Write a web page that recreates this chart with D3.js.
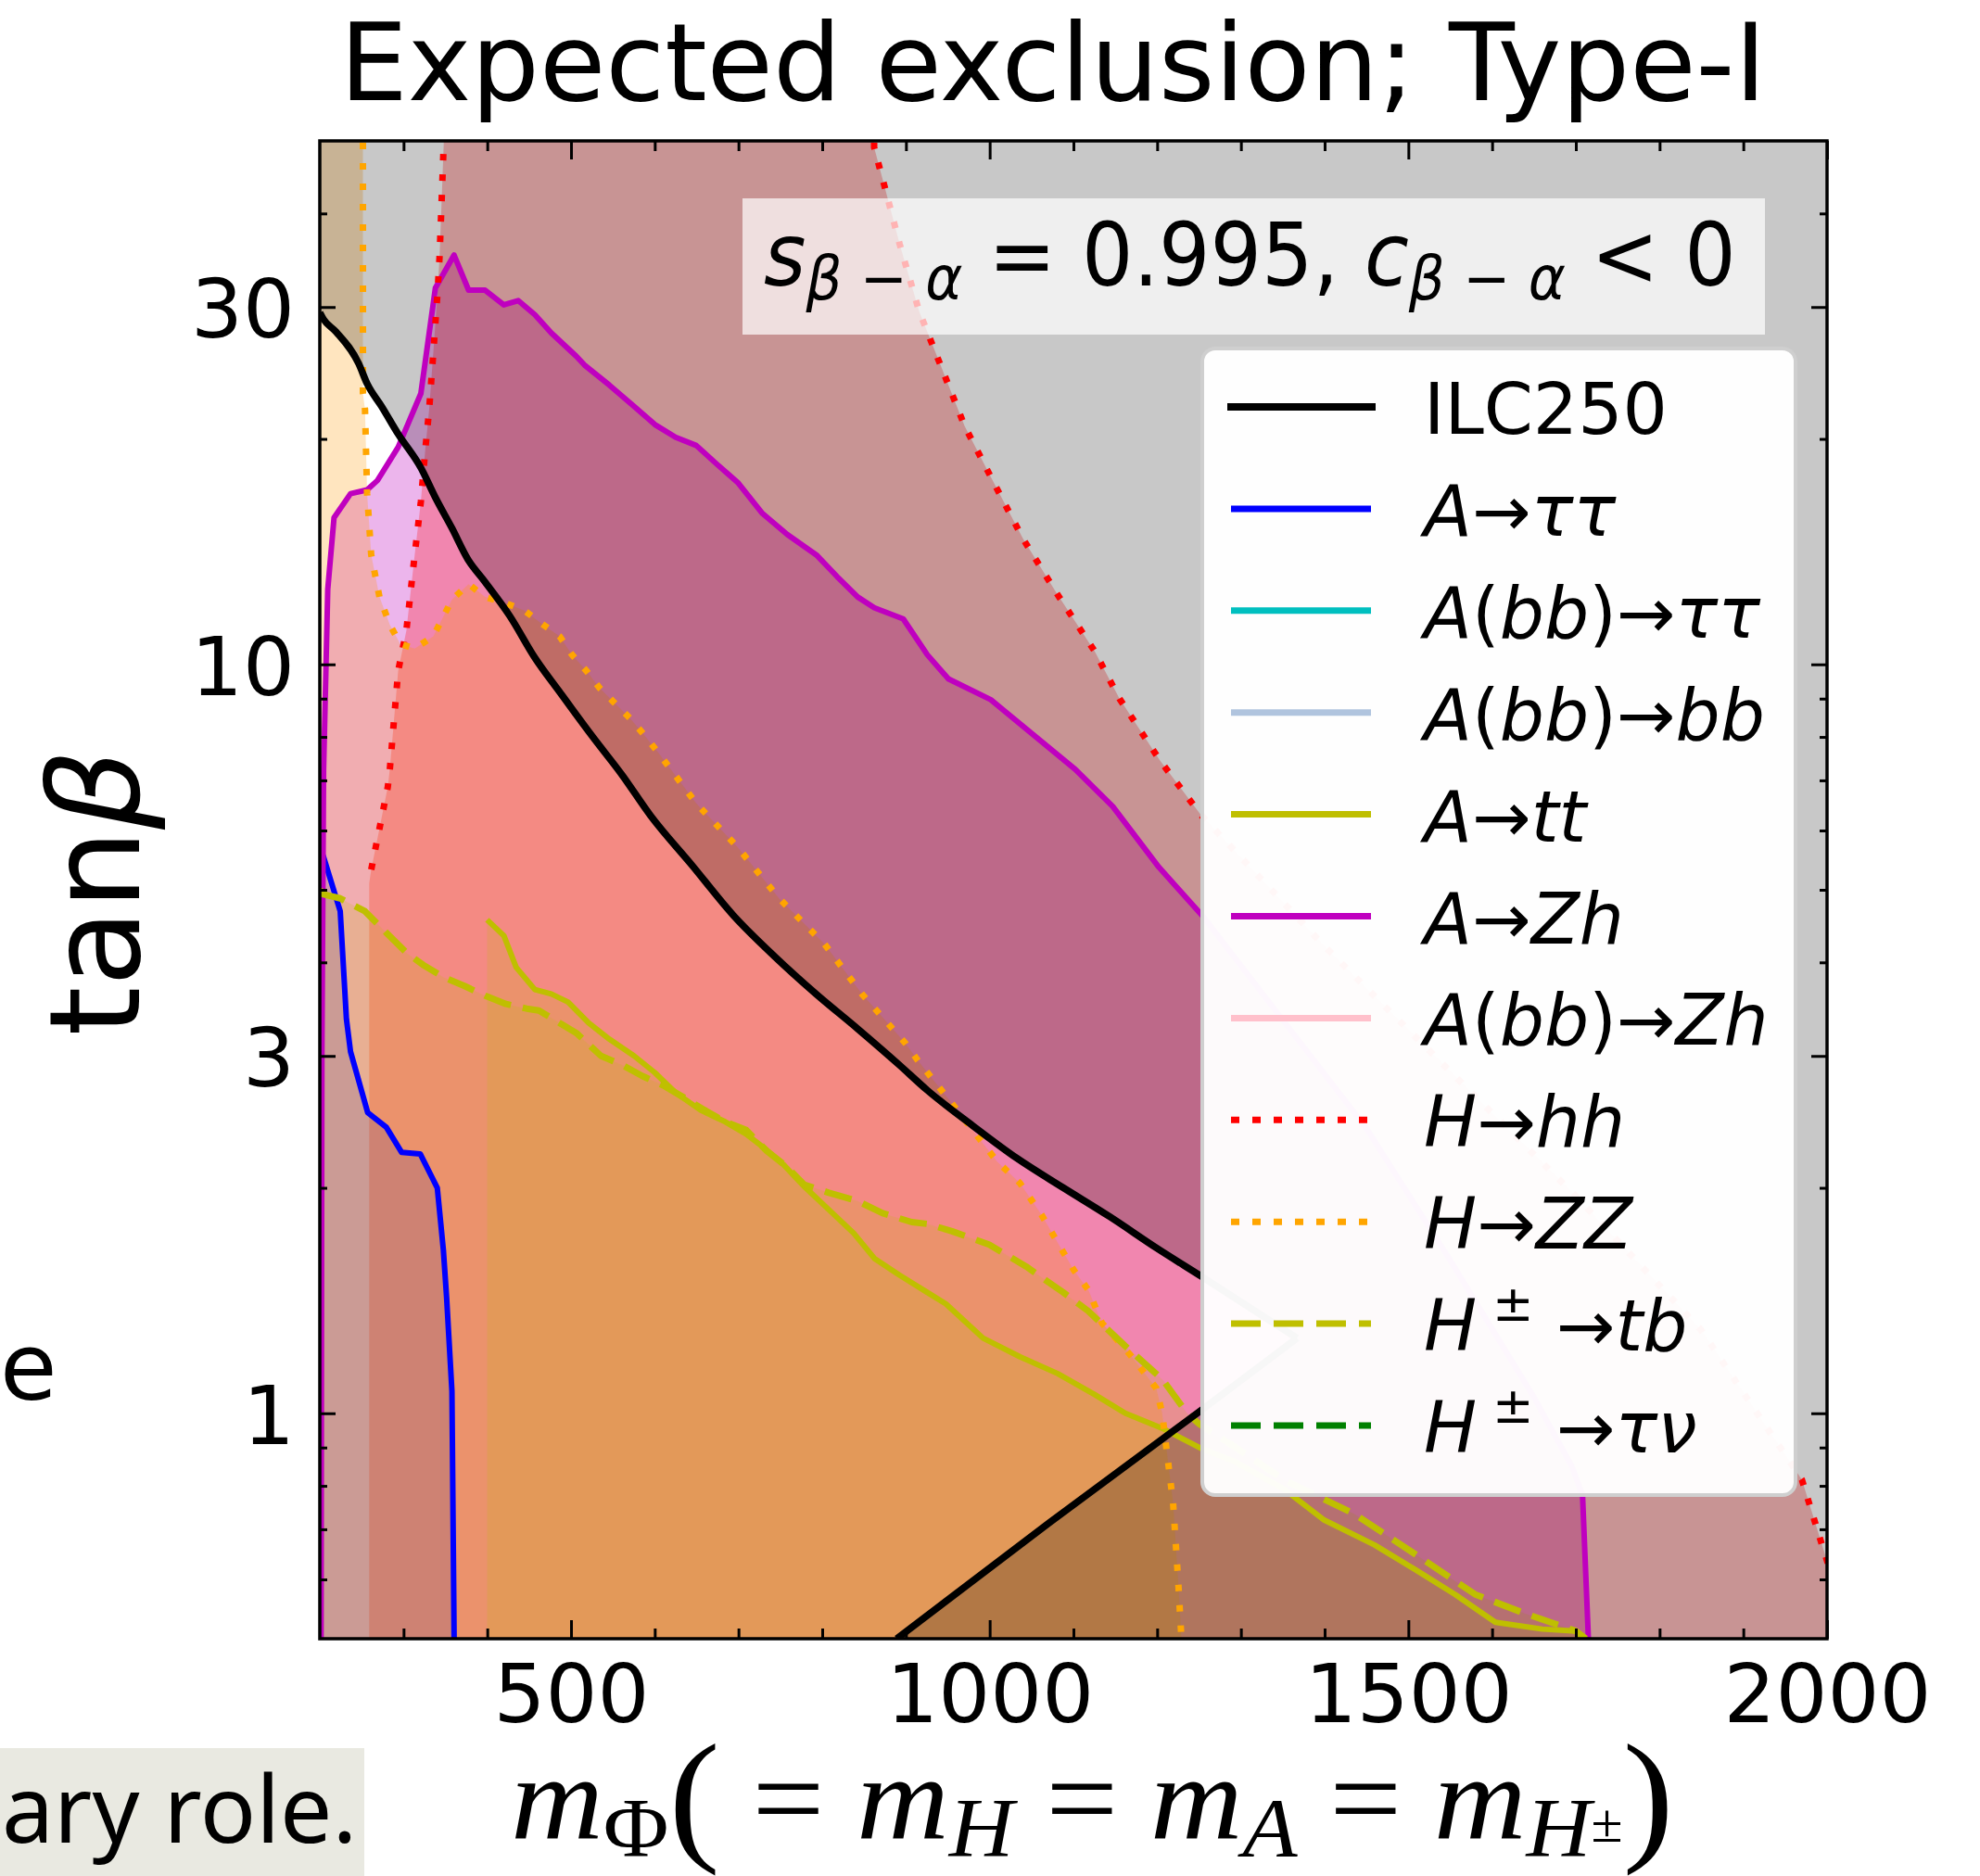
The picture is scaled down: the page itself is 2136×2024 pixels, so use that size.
<!DOCTYPE html>
<html>
<head>
<meta charset="utf-8">
<title>Expected exclusion; Type-I</title>
<script src="https://cdn.jsdelivr.net/npm/d3@7/dist/d3.min.js"></script>
<style>
body { margin: 0; background: #fff; }
svg { display: block; }
</style>
</head>
<body>
<script>
// curves, as [m_Phi (GeV), tan beta]
var ilcUpper = [[200,29.5],[204.4,28.9],[219.4,27.8],[246.5,25.2],[256.5,23.7],[273.8,22.1],[293.6,20.3],[320.7,18.3],[338,16.7],[357.8,15.2],[377,13.8],[397,12.9],[427,11.6],[457,10.2],[486,9.2],[526,8.0],[560.5,7.13],[595,6.28],[644.6,5.39],[694,4.62],[743.5,4.07],[792.6,3.63],[842.5,3.26],[891.8,2.92],[925.5,2.70],[980,2.42],[1032.6,2.19],[1088,2.00],[1143.4,1.83],[1200,1.66],[1254.2,1.52],[1367,1.26]];
var ilcLower = [[889,0.5],[1071,0.714],[1253,1.01],[1367,1.26]];

var azh = [[201.5,0.5],[202.5,3],[204.5,7.2],[209.5,12.6],[217,15.7],[236.7,16.9],[256.5,17.1],[268.8,17.6],[293.6,19.5],[320.7,23.0],[338,31.8],[360.3,35.2],[377.7,31.6],[397.4,31.6],[419.7,30.2],[436.9,30.6],[456.8,29.3],[476.5,27.7],[506.2,25.8],[516.1,25.1],[545.7,23.6],[575.4,22.1],[600.2,20.9],[624.9,20.1],[649.6,19.6],[674.3,18.5],[699,17.5],[728.7,15.9],[758.4,14.9],[793,14.0],[817.7,13.1],[842.4,12.3],[862.3,11.9],[896.8,11.5],[925.5,10.3],[950.8,9.56],[1001.3,8.97],[1102.3,7.24],[1147,6.46],[1202,5.36],[1254.5,4.61],[1350,3.35],[1450,2.4],[1550,1.6],[1650,1.05],[1695,0.85],[1708,0.777],[1715,0.5]];

var tautau = [[200,5.7],[204.5,5.53],[224.4,4.68],[231.8,3.36],[236.7,3.04],[257.2,2.52],[279.4,2.41],[297.8,2.23],[319.9,2.22],[340.3,2.00],[347.6,1.65],[351.4,1.43],[357.8,1.07],[360.4,0.5]];

var hhStart = [[259,5.1]];
var hhLeft = [[261.4,5.32],[271.3,6.04],[281.2,6.86],[283.6,7.24],[293.6,9.8],[303.4,11.1],[313.3,14.0],[320.7,16.5],[325.7,19.2],[330.6,21.9],[335.6,26.1],[340.5,31.2],[343,35],[345.4,41.3],[348,49.6],[348.5,60]];
var hhRight = [[862,60],[862,49],[874.6,43.4],[892.5,36.4],[915.8,29.6],[946.9,24.2],[970.1,20.8],[1001.3,17.8],[1040,14.7],[1078.9,12.5],[1125.6,10.4],[1155,9.0],[1203,7.45],[1252,6.3],[1400,4.2],[1550,2.86],[1700,1.95],[1850,1.29],[1970,0.815],[1994,0.667],[2003,0.62]];

var zzStart = [[200,60]];
var zz = [[251.5,60],[251.5,23.0],[254,21.9],[256.5,16.9],[261.4,14.0],[271.3,12.3],[283.6,11.3],[296,10.65],[313.3,10.5],[335.6,10.9],[357.8,12.2],[377.7,12.8],[397.4,12.3],[419.7,12.1],[444.4,11.8],[466.6,11.3],[486.4,10.9],[501.2,10.3],[518.5,9.8],[533.4,9.32],[550.7,8.91],[570.5,8.47],[585.4,8.10],[605.1,7.60],[649.6,6.52],[699,5.70],[748.5,4.87],[802.9,4.23],[847.4,3.63],[899.3,3.12],[914.1,2.96],[960,2.55],[1008.6,2.17],[1036,2.03],[1062,1.84],[1088,1.64],[1101,1.55],[1118,1.46],[1134,1.32],[1167,1.20],[1199,1.08],[1206,1.00],[1212,0.88],[1219,0.76],[1225,0.6],[1229,0.5]];

var tt = [[399.8,4.56],[419.9,4.34],[434.5,3.94],[456.8,3.68],[476.5,3.63],[496.5,3.54],[521.1,3.32],[545.7,3.16],[575.4,3.00],[600.1,2.85],[624.9,2.68],[654.6,2.54],[684.2,2.45],[708.9,2.36],[728.7,2.27],[753.4,2.15],[778.1,2.01],[807.9,1.87],[837.5,1.74],[862.3,1.61],[891.9,1.53],[925.5,1.45],[947.7,1.40],[992,1.26],[1036,1.19],[1081,1.13],[1125,1.06],[1162,1.00],[1206,0.955],[1254,0.896],[1291.5,0.863],[1351.5,0.792],[1399.6,0.72],[1459.7,0.667],[1507.7,0.619],[1555.8,0.573],[1603.9,0.526],[1660,0.515],[1700,0.512],[1712,0.5]];

var tb = [[200,5.0],[204.5,4.93],[224.4,4.87],[254,4.68],[278.8,4.39],[303.5,4.12],[323.3,3.97],[348,3.82],[372.8,3.72],[397.5,3.61],[422.3,3.52],[447,3.47],[461.7,3.45],[486.5,3.32],[506.3,3.22],[535.9,3.00],[560.6,2.92],[585.4,2.82],[610.1,2.74],[634.8,2.64],[659.6,2.54],[684.3,2.45],[709,2.39],[733.8,2.24],[758.5,2.13],[778.3,2.02],[808,1.97],[842.4,1.92],[872.1,1.85],[906.8,1.80],[925.5,1.79],[955,1.75],[999.3,1.68],[1043.6,1.57],[1087.9,1.45],[1117.4,1.37],[1161.8,1.23],[1206.3,1.11],[1235.8,1.00],[1250.6,0.967],[1294,0.9],[1351.5,0.815],[1435.2,0.734],[1507.7,0.649],[1579.8,0.573],[1639.8,0.54],[1700,0.512],[1712,0.5]];

var xMajor = [500, 1000, 1500, 2000];
var xMinor = [300, 400, 600, 700, 800, 900, 1100, 1200, 1300, 1400, 1600, 1700, 1800, 1900];
var yMajor = [1, 3, 10, 30];
var yMinor = [0.6, 0.7, 0.8, 0.9, 2, 4, 5, 6, 7, 8, 9, 20, 40];

var legendLabels = ["ILC250", "A→ττ", "A(bb)→ττ", "A(bb)→bb", "A→tt", "A→Zh", "A(bb)→Zh", "H→hh", "H→ZZ", "H±→tb", "H±→τν"];
var legendColors = ["#000000", "#0000ff", "#00bfbf", "#b0c4de", "#bfbf00", "#bf00bf", "#ffc0cb", "#ff0000", "#ffa500", "#bfbf00", "#008000"];
var legendDash = [null, null, null, null, null, null, null, "9 14", "9 14", "32 14", "32 14"];

var W = 2136, H = 2024;
var plot = {left: 345, right: 1971, top: 152, bottom: 1768};

var svg = d3.select("body").append("svg")
	.attr("width", W)
	.attr("height", H)
	.style("font-family", "'DejaVu Sans', sans-serif");

var x = d3.scaleLinear().domain([200, 2000]).range([plot.left, plot.right]);
var y = d3.scaleLog().domain([0.5, 50]).range([plot.bottom, plot.top]);

svg.append("defs").append("clipPath").attr("id", "clip")
	.append("rect")
	.attr("x", plot.left).attr("y", plot.top)
	.attr("width", plot.right - plot.left)
	.attr("height", plot.bottom - plot.top);

var g = svg.append("g").attr("clip-path", "url(#clip)");

var area = d3.area()
	.x(function(d) { return x(d[0]); })
	.y0(y(0.5))
	.y1(function(d) { return y(d[1]); });

var line = d3.line()
	.x(function(d) { return x(d[0]); })
	.y(function(d) { return y(d[1]); });

// the ILC contour is smooth, so interpolate it
var smooth = d3.line()
	.x(function(d) { return x(d[0]); })
	.y(function(d) { return y(d[1]); })
	.curve(d3.curveMonotoneX);

// excluded regions, semi transparent like fill_between(alpha=...)
var fills = [
	[azh, "#bf00bf", 0.29],
	[hhStart.concat(hhLeft, hhRight), "#ff0000", 0.26],
	[zzStart.concat(zz), "#ff9600", 0.25],
	[tt, "#bfbf00", 0.17],
	[tb, "#bfbf00", 0.17],
	[tautau, "#2828a0", 0.15]
];
fills.forEach(function(f) {
	g.append("path")
		.attr("d", area(f[0]))
		.attr("fill", f[1])
		.attr("fill-opacity", f[2]);
});

// ILC250 reach: everything outside the contour is shaded
var lowerBack = line(ilcLower.slice().reverse().concat([[200, 0.5]])).replace(/^M/, "L");
g.append("path")
	.attr("d", "M" + plot.left + "," + plot.top + "H" + plot.right + "V" + plot.bottom + "H" + plot.left + "Z" + smooth(ilcUpper) + lowerBack + "Z")
	.attr("fill-rule", "evenodd")
	.attr("fill", "#000")
	.attr("fill-opacity", 0.216);

var curves = [
	[tautau, "#0000ff", 6, null, line],
	[tt, "#bfbf00", 6, null, line],
	[azh, "#bf00bf", 6, null, line],
	[hhLeft, "#ff0000", 7, "7 15", line],
	[hhRight, "#ff0000", 7, "7 15", line],
	[zz, "#ffa500", 7, "7 15", line],
	[tb, "#bfbf00", 7, "30 13", line],
	[ilcUpper, "#000000", 7.5, null, smooth],
	[ilcLower, "#000000", 7.5, null, line]
];
curves.forEach(function(c) {
	g.append("path")
		.attr("d", c[4](c[0]))
		.attr("fill", "none")
		.attr("stroke", c[1])
		.attr("stroke-width", c[2])
		.attr("stroke-dasharray", c[3])
		.attr("stroke-linejoin", "round");
});

// ticks on all four sides, pointing inwards
function drawAxis(axis, tx, ty) {
	var a = svg.append("g")
		.attr("transform", "translate(" + tx + "," + ty + ")")
		.call(axis);
	a.select(".domain").remove();
	a.attr("font-family", "'DejaVu Sans', sans-serif").attr("font-size", 88);
	a.selectAll("line").attr("stroke", "#000").attr("stroke-width", 3);
	a.selectAll("text").attr("fill", "#000");
	return a;
}
var blank = function() { return ""; };

drawAxis(d3.axisBottom(x).tickValues(xMajor).tickSize(-20).tickPadding(28).tickFormat(d3.format("d")), 0, plot.bottom);
drawAxis(d3.axisBottom(x).tickValues(xMinor).tickSize(-11).tickFormat(blank), 0, plot.bottom);
drawAxis(d3.axisTop(x).tickValues(xMajor).tickSize(-20).tickFormat(blank), 0, plot.top);
drawAxis(d3.axisTop(x).tickValues(xMinor).tickSize(-11).tickFormat(blank), 0, plot.top);
drawAxis(d3.axisLeft(y).tickValues(yMajor).tickSize(-17).tickPadding(27).tickFormat(d3.format("d")), plot.left, 0)
	.selectAll("text").attr("dy", "0.37em");
drawAxis(d3.axisLeft(y).tickValues(yMinor).tickSize(-8).tickFormat(blank), plot.left, 0);
drawAxis(d3.axisRight(y).tickValues(yMajor).tickSize(-17).tickFormat(blank), plot.right, 0);
drawAxis(d3.axisRight(y).tickValues(yMinor).tickSize(-8).tickFormat(blank), plot.right, 0);

svg.append("rect")
	.attr("x", plot.left).attr("y", plot.top)
	.attr("width", plot.right - plot.left)
	.attr("height", plot.bottom - plot.top)
	.attr("fill", "none")
	.attr("stroke", "#000")
	.attr("stroke-width", 3.5);

// mathtext-ish helper: parts = [text, italic, scale, shift(em)]
function mathText(sel, parts, base, size) {
	parts.forEach(function(p) {
		sel.append("tspan")
			.attr("y", base + (p[3] || 0) * size)
			.style("font-size", (p[2] || 1) * size + "px")
			.style("font-style", p[1] ? "italic" : "normal")
			.text(p[0]);
	});
	return sel;
}
function fitX(sel, x0, x1) {
	var b = sel.node().getBBox();
	var k = (x1 - x0) / b.width;
	sel.attr("transform", "translate(" + x0 + ",0) scale(" + k + ",1) translate(" + (-b.x) + ",0)");
}

// title
svg.append("text")
	.attr("x", 1136).attr("y", 108)
	.attr("text-anchor", "middle")
	.style("font-size", "116px")
	.text("Expected exclusion; Type-I");

// y label
var yl = svg.append("text")
	.attr("transform", "translate(150,963) rotate(-90)")
	.attr("text-anchor", "middle")
	.style("font-size", "136px");
yl.append("tspan").text("tan");
yl.append("tspan").style("font-style", "italic").text("β");

// parameter box
svg.append("rect")
	.attr("x", 801).attr("y", 214)
	.attr("width", 1103).attr("height", 147)
	.attr("fill", "#fff").attr("fill-opacity", 0.7);
var pb = svg.append("text")
	.attr("x", 0)
	.attr("xml:space", "preserve")
	.style("white-space", "pre");
mathText(pb, [
	["s", 1], ["β", 1, 0.7, 0.16], [" − ", 0, 0.7, 0.16], ["α", 1, 0.7, 0.16],
	[" = 0.995, "], ["c", 1], ["β", 1, 0.7, 0.16], [" − ", 0, 0.7, 0.16], ["α", 1, 0.7, 0.16],
	[" < 0"]
], 308, 94);
fitX(pb, 824, 1873);

// legend
svg.append("rect")
	.attr("x", 1297).attr("y", 376)
	.attr("width", 640).attr("height", 1237)
	.attr("rx", 14)
	.attr("fill", "#fff").attr("fill-opacity", 0.97)
	.attr("stroke", "#cfcfcf").attr("stroke-width", 4);

legendLabels.forEach(function(lab, i) {
	var ly = 439 + i * 109.9;
	svg.append("line")
		.attr("x1", i === 0 ? 1324 : 1328).attr("x2", i === 0 ? 1484 : 1479)
		.attr("y1", ly).attr("y2", ly)
		.attr("stroke", legendColors[i])
		.attr("stroke-width", i === 0 ? 8 : 7)
		.attr("stroke-dasharray", legendDash[i]);
	var t = svg.append("text").attr("x", 1536).attr("xml:space", "preserve").style("white-space", "pre");
	if (lab === "ILC250") {
		mathText(t, [["ILC250"]], ly + 29, 76);
	} else {
		var parts = [];
		lab.split("").forEach(function(ch) {
			if (ch === "±") parts.push([" ±", 0, 0.7, -0.42]);
			else if (ch === "→") parts.push([lab.indexOf("±") >= 0 ? " →" : "→"]);
			else if (ch === "(" || ch === ")") parts.push([ch]);
			else parts.push([ch, 1]);
		});
		mathText(t, parts, ly + 29, 76);
	}
});

// x label
var xl = svg.append("text")
	.attr("xml:space", "preserve")
	.style("white-space", "pre")
	.style("font-family", "'Liberation Serif', serif");
mathText(xl, [
	["m", 1], ["Φ", 0, 0.7, 0.15], ["(", 0, 1.2, 0.05], [" = "], ["m", 1], ["H", 1, 0.7, 0.15],
	[" = "], ["m", 1], ["A", 1, 0.7, 0.15], [" = "], ["m", 1], ["H", 1, 0.7, 0.15],
	["±", 0, 0.45, 0.02], [")", 0, 1.2, 0.05]
], 1984, 130);
fitX(xl, 551, 1806);

// fragments of the surrounding slide
svg.append("text")
	.attr("x", 0).attr("y", 1510)
	.style("font-size", "100px")
	.text("e");
svg.append("rect")
	.attr("x", 0).attr("y", 1886)
	.attr("width", 393).attr("height", 138)
	.attr("fill", "#e9e9e1");
svg.append("text")
	.attr("x", 2).attr("y", 1988)
	.style("font-family", "'Noto Sans', sans-serif")
	.style("font-size", "100px")
	.text("ary role.");
</script>
</body>
</html>
